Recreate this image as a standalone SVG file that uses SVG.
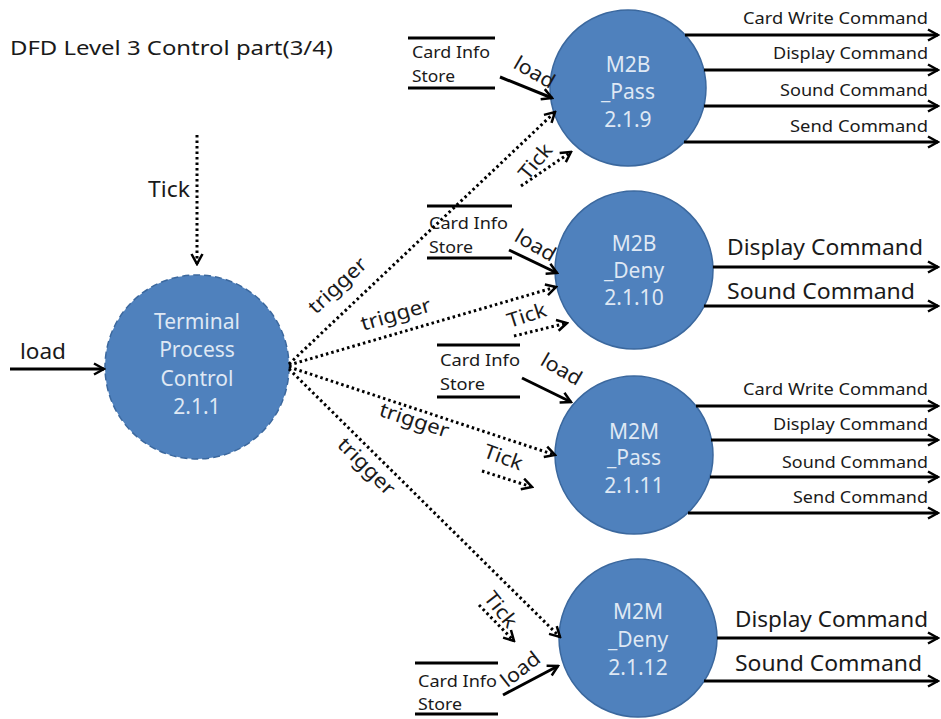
<svg xmlns="http://www.w3.org/2000/svg" width="941" height="719" viewBox="0 0 941 719">
<defs>
<marker id="ah" viewBox="0 0 14 14" refX="12" refY="7" markerWidth="14" markerHeight="14" markerUnits="userSpaceOnUse" orient="auto">
<path d="M2,1.5 L12,7 L2,12.5" fill="none" stroke="#000" stroke-width="2.5" stroke-dasharray="none"/>
</marker>
</defs>
<style>
.t{font-family:"Noto Sans","Open Sans","Liberation Sans",sans-serif;fill:#1a1a1a}
.c{font-family:"Noto Sans","Open Sans","Liberation Sans",sans-serif;fill:#dfe8f4;font-size:21px;text-anchor:middle}
.proc{fill:#4f81bd;stroke:#3b689e;stroke-width:1.5}
.solid{fill:none;stroke:#000;stroke-width:3;marker-end:url(#ah)}
.dot{fill:none;stroke:#000;stroke-width:3;stroke-dasharray:2.5 3;marker-end:url(#ah)}
.store{stroke:#000;stroke-width:3}
.s16{font-size:16px}
.s21{font-size:21px}
.s18{font-size:20px}
</style>
<rect width="941" height="719" fill="#fff"/>
<text class="t" x="10" y="55" font-size="19" textLength="323" lengthAdjust="spacingAndGlyphs">DFD Level 3 Control part(3/4)</text>

<g id="tpc">
<circle class="proc" cx="197" cy="367" r="92" stroke="#2f5382" stroke-width="2" stroke-dasharray="7 4"/>
<text class="c" x="197" y="329">Terminal</text>
<text class="c" x="197" y="357">Process</text>
<text class="c" x="197" y="386">Control</text>
<text class="c" x="197" y="414">2.1.1</text>
</g>

<g id="m2b_pass">
<circle class="proc" cx="628" cy="88" r="78"/>
<text class="c" x="628" y="72">M2B</text>
<text class="c" x="628" y="99">_Pass</text>
<text class="c" x="628" y="127">2.1.9</text>
</g>

<g id="m2b_deny">
<circle class="proc" cx="634" cy="270" r="79"/>
<text class="c" x="634" y="251">M2B</text>
<text class="c" x="634" y="278">_Deny</text>
<text class="c" x="634" y="305">2.1.10</text>
</g>

<g id="m2m_pass">
<circle class="proc" cx="634" cy="455" r="79"/>
<text class="c" x="634" y="439">M2M</text>
<text class="c" x="634" y="465">_Pass</text>
<text class="c" x="634" y="493">2.1.11</text>
</g>

<g id="m2m_deny">
<circle class="proc" cx="638" cy="638" r="79"/>
<text class="c" x="638" y="619">M2M</text>
<text class="c" x="638" y="647">_Deny</text>
<text class="c" x="638" y="675">2.1.12</text>
</g>

<g id="store1">
<line class="store" x1="408" y1="38" x2="495" y2="38"/>
<line class="store" x1="408" y1="88" x2="495" y2="88"/>
<text class="t s16" x="412" y="58" textLength="78" lengthAdjust="spacingAndGlyphs">Card Info</text>
<text class="t s16" x="412" y="82" textLength="43" lengthAdjust="spacingAndGlyphs">Store</text>
</g>

<g id="store2">
<line class="store" x1="427" y1="206" x2="512" y2="206"/>
<line class="store" x1="427" y1="258" x2="512" y2="258"/>
<text class="t s16" x="429" y="229" textLength="79" lengthAdjust="spacingAndGlyphs">Card Info</text>
<text class="t s16" x="429" y="253" textLength="44" lengthAdjust="spacingAndGlyphs">Store</text>
</g>

<g id="store3">
<line class="store" x1="437" y1="345" x2="520" y2="345"/>
<line class="store" x1="437" y1="397" x2="520" y2="397"/>
<text class="t s16" x="440" y="366" textLength="80" lengthAdjust="spacingAndGlyphs">Card Info</text>
<text class="t s16" x="440" y="390" textLength="45" lengthAdjust="spacingAndGlyphs">Store</text>
</g>

<g id="store4">
<line class="store" x1="415" y1="663" x2="498" y2="663"/>
<line class="store" x1="415" y1="714" x2="498" y2="714"/>
<text class="t s16" x="418" y="687" textLength="79" lengthAdjust="spacingAndGlyphs">Card Info</text>
<text class="t s16" x="418" y="710" textLength="44" lengthAdjust="spacingAndGlyphs">Store</text>
</g>

<g id="connectors">
<path class="dot" d="M197,135 L197,264"/>
<text class="t s21" x="148" y="197" textLength="42" lengthAdjust="spacingAndGlyphs">Tick</text>
<path class="solid" d="M10,369 L104,369"/>
<text class="t s21" x="20" y="359" textLength="46" lengthAdjust="spacingAndGlyphs">load</text>

<path class="dot" d="M289,364 L555,112"/>
<text class="t s18" transform="translate(338,286) rotate(-43)" text-anchor="middle" dy="6" textLength="72" lengthAdjust="spacingAndGlyphs">trigger</text>
<path class="dot" d="M289,365 L556,287"/>
<text class="t s18" transform="translate(396,315) rotate(-16)" text-anchor="middle" dy="6" textLength="72" lengthAdjust="spacingAndGlyphs">trigger</text>
<path class="dot" d="M289,367 L555,455"/>
<text class="t s18" transform="translate(414,421) rotate(18)" text-anchor="middle" dy="6" textLength="72" lengthAdjust="spacingAndGlyphs">trigger</text>
<path class="dot" d="M289,369 L560,637"/>
<text class="t s18" transform="translate(366,467) rotate(45)" text-anchor="middle" dy="6" textLength="72" lengthAdjust="spacingAndGlyphs">trigger</text>

<path class="dot" d="M521,186 L571,152"/>
<text class="t s18" transform="translate(536,162) rotate(-50)" text-anchor="middle" dy="6" textLength="40" lengthAdjust="spacingAndGlyphs">Tick</text>
<path class="dot" d="M514,336 L567,323"/>
<text class="t s18" transform="translate(527,316) rotate(-18)" text-anchor="middle" dy="6" textLength="40" lengthAdjust="spacingAndGlyphs">Tick</text>
<path class="dot" d="M482,471 L532,487"/>
<text class="t s18" transform="translate(503,458) rotate(20)" text-anchor="middle" dy="6" textLength="40" lengthAdjust="spacingAndGlyphs">Tick</text>
<path class="dot" d="M479,605 L514,641"/>
<text class="t s18" transform="translate(500,610) rotate(52)" text-anchor="middle" dy="6" textLength="40" lengthAdjust="spacingAndGlyphs">Tick</text>

<path class="solid" d="M500,77 L552,98"/>
<text class="t s18" transform="translate(534,73) rotate(30)" text-anchor="middle" dy="6" textLength="44" lengthAdjust="spacingAndGlyphs">load</text>
<path class="solid" d="M509,250 L557,273"/>
<text class="t s18" transform="translate(535,246) rotate(30)" text-anchor="middle" dy="6" textLength="44" lengthAdjust="spacingAndGlyphs">load</text>
<path class="solid" d="M522,378 L571,402"/>
<text class="t s18" transform="translate(561,370) rotate(30)" text-anchor="middle" dy="6" textLength="44" lengthAdjust="spacingAndGlyphs">load</text>
<path class="solid" d="M503,695 L558,666"/>
<text class="t s18" transform="translate(521,670) rotate(-38)" text-anchor="middle" dy="6" textLength="44" lengthAdjust="spacingAndGlyphs">load</text>

<path class="solid" d="M685,35 L938,35"/>
<path class="solid" d="M704,70 L938,70"/>
<path class="solid" d="M704,106 L938,106"/>
<path class="solid" d="M684,142 L938,142"/>
<text class="t s16" x="928" y="24" text-anchor="end" textLength="185" lengthAdjust="spacingAndGlyphs">Card Write Command</text>
<text class="t s16" x="928" y="59" text-anchor="end" textLength="155" lengthAdjust="spacingAndGlyphs">Display Command</text>
<text class="t s16" x="928" y="96" text-anchor="end" textLength="148" lengthAdjust="spacingAndGlyphs">Sound Command</text>
<text class="t s16" x="928" y="132" text-anchor="end" textLength="138" lengthAdjust="spacingAndGlyphs">Send Command</text>

<path class="solid" d="M713,267 L938,267"/>
<path class="solid" d="M704,306 L938,306"/>
<text class="t s21" x="727" y="255" textLength="196" lengthAdjust="spacingAndGlyphs">Display Command</text>
<text class="t s21" x="727" y="299" textLength="188" lengthAdjust="spacingAndGlyphs">Sound Command</text>

<path class="solid" d="M696,406 L938,406"/>
<path class="solid" d="M711,440 L938,440"/>
<path class="solid" d="M710,477 L938,477"/>
<path class="solid" d="M688,513 L938,513"/>
<text class="t s16" x="928" y="395" text-anchor="end" textLength="185" lengthAdjust="spacingAndGlyphs">Card Write Command</text>
<text class="t s16" x="928" y="430" text-anchor="end" textLength="155" lengthAdjust="spacingAndGlyphs">Display Command</text>
<text class="t s16" x="928" y="468" text-anchor="end" textLength="146" lengthAdjust="spacingAndGlyphs">Sound Command</text>
<text class="t s16" x="928" y="503" text-anchor="end" textLength="135" lengthAdjust="spacingAndGlyphs">Send Command</text>

<path class="solid" d="M717,638 L938,638"/>
<path class="solid" d="M704,681 L938,681"/>
<text class="t s21" x="735" y="627" textLength="193" lengthAdjust="spacingAndGlyphs">Display Command</text>
<text class="t s21" x="735" y="671" textLength="187" lengthAdjust="spacingAndGlyphs">Sound Command</text>
</g>
</svg>
